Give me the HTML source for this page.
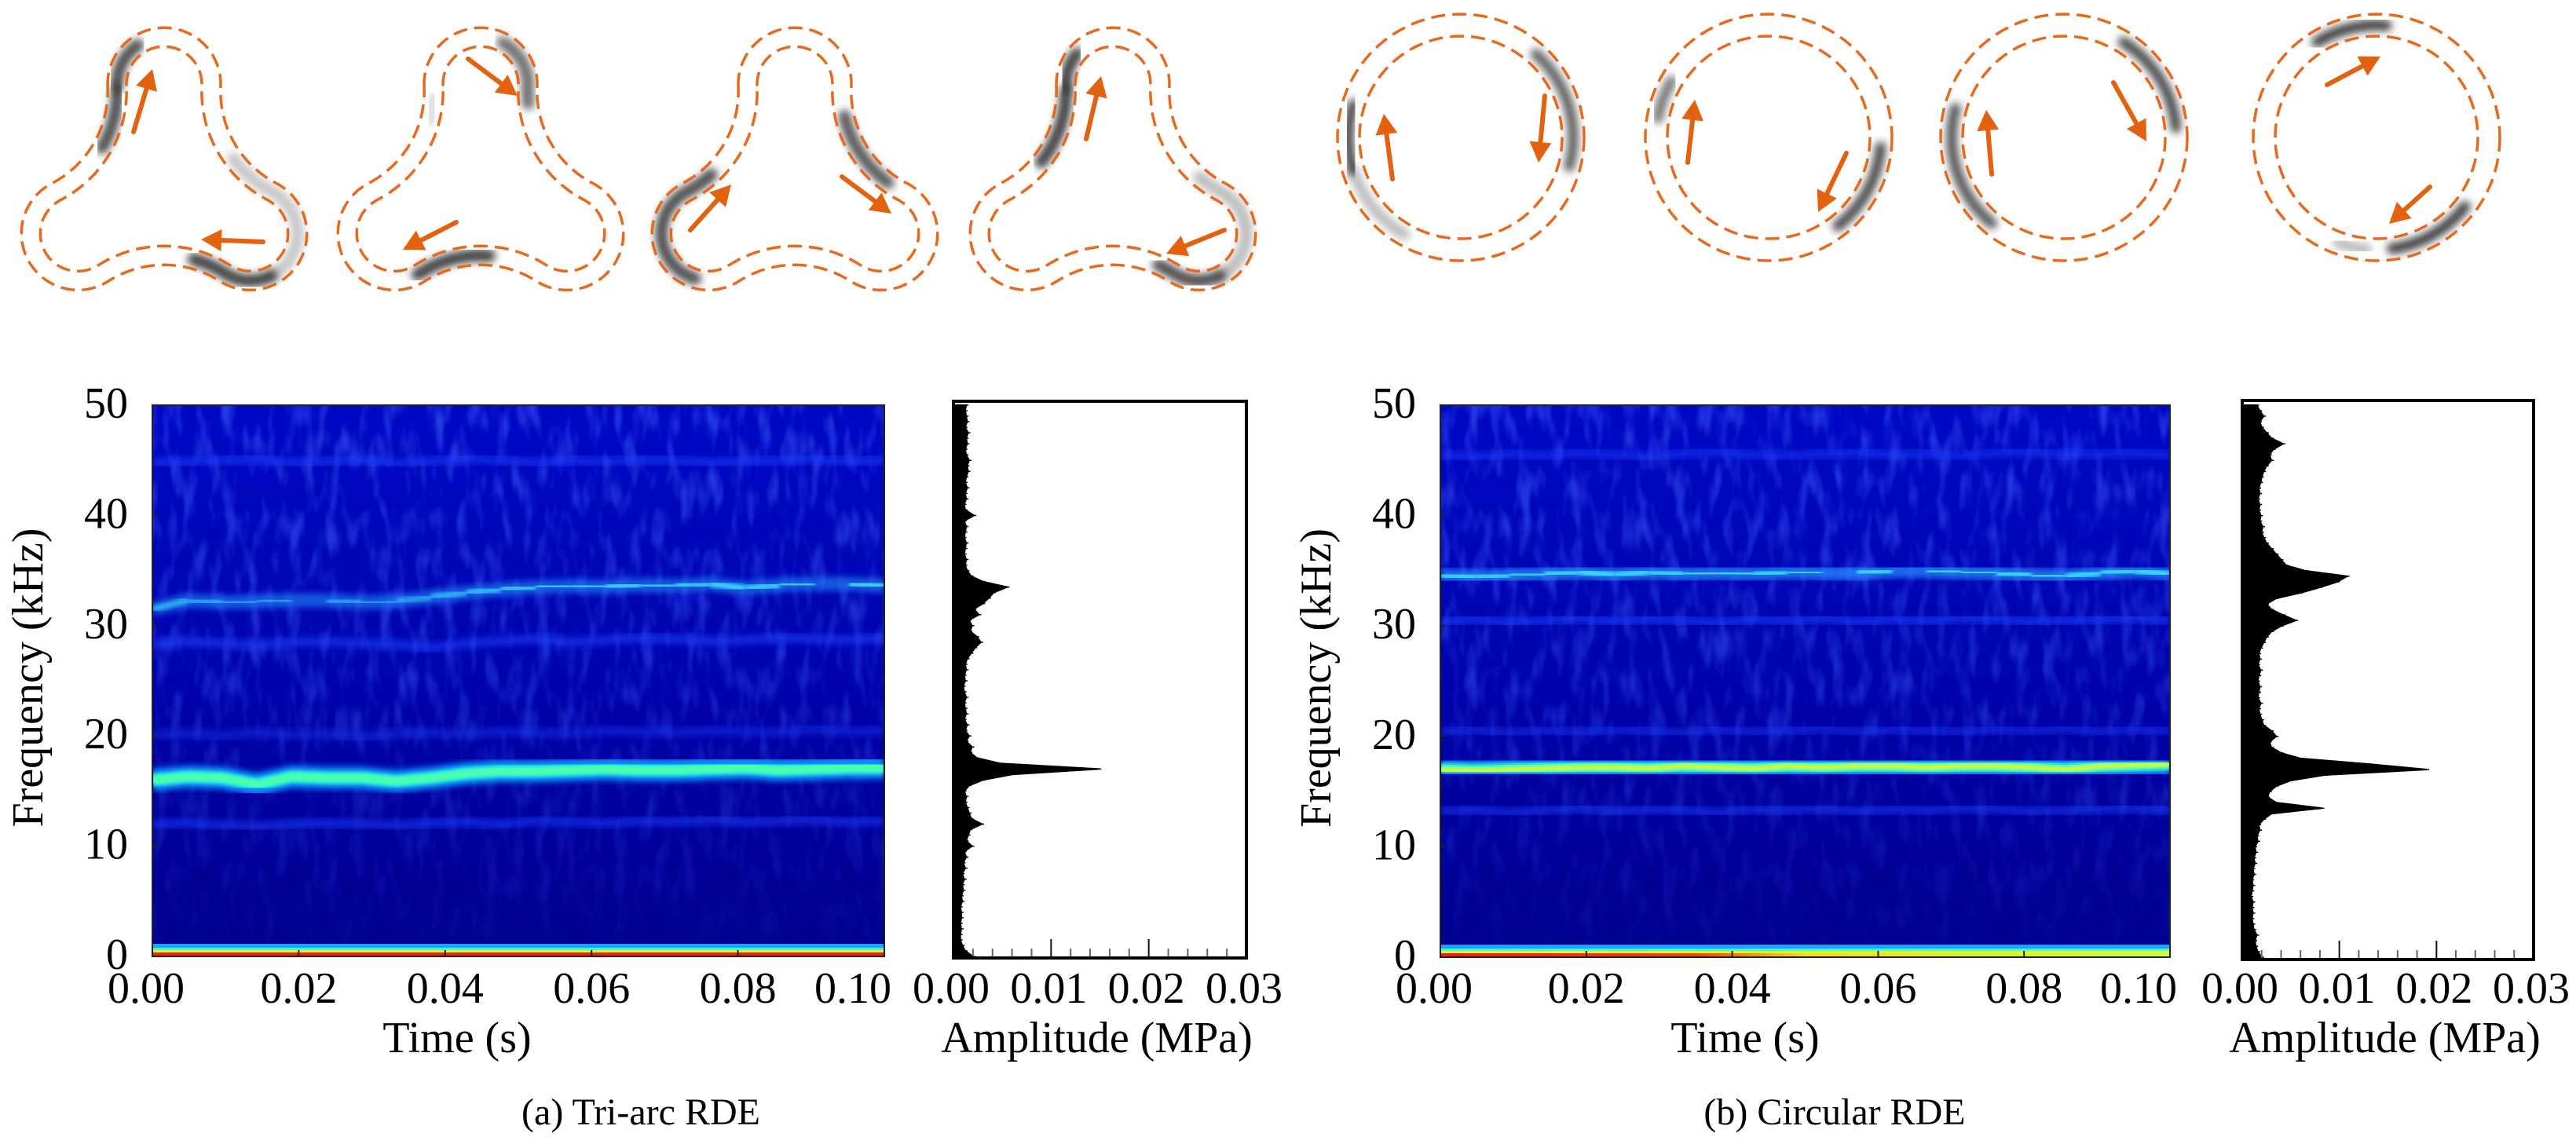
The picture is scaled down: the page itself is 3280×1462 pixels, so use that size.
<!DOCTYPE html>
<html><head><meta charset="utf-8">
<style>
html,body{margin:0;padding:0;background:#fff;}
svg{display:block;font-family:"Liberation Serif","Times New Roman","Noto Serif CJK SC",serif;}
svg text{font-family:"Liberation Serif","Times New Roman","Noto Serif CJK SC",serif;fill:#000;}
</style></head>
<body>
<svg id="fig" width="3280" height="1462" viewBox="0 0 3280 1462" xmlns="http://www.w3.org/2000/svg">
<defs>
  <filter id="blur2" x="-20%" y="-20%" width="140%" height="140%"><feGaussianBlur stdDeviation="2"/></filter>
  <filter id="blur4" x="-20%" y="-50%" width="140%" height="200%"><feGaussianBlur stdDeviation="4"/></filter>
  <filter id="blur5" x="-30%" y="-30%" width="160%" height="160%"><feGaussianBlur stdDeviation="5"/></filter>
  <filter id="texture" x="0" y="0" width="100%" height="100%">
    <feTurbulence type="fractalNoise" baseFrequency="0.06 0.02" numOctaves="2" seed="7" result="n"/>
    <feColorMatrix in="n" type="matrix" values="0 0 0 0 0.05  0 0 0 0 0.12  0 0 0 0 1  3.0 0 0 0 -1.4" result="c"/>
    <feComposite in="c" in2="SourceGraphic" operator="in"/>
  </filter>
  <linearGradient id="bgGrad" x1="0" y1="0" x2="0" y2="1">
    <stop offset="0" stop-color="#0008c4"/>
    <stop offset="0.45" stop-color="#0004b0"/>
    <stop offset="0.7" stop-color="#00009e"/>
    <stop offset="1" stop-color="#000090"/>
  </linearGradient>
  <linearGradient id="fadeGrad" x1="0" y1="0" x2="0" y2="1">
    <stop offset="0" stop-color="#fff" stop-opacity="0.55"/>
    <stop offset="0.5" stop-color="#fff" stop-opacity="0.4"/>
    <stop offset="0.85" stop-color="#fff" stop-opacity="0.15"/>
    <stop offset="1" stop-color="#fff" stop-opacity="0.05"/>
  </linearGradient>
  <mask id="maskL" maskUnits="userSpaceOnUse" x="194" y="516" width="932" height="703"><rect x="194" y="516" width="932" height="703" fill="url(#fadeGrad)"/></mask>
  <mask id="maskR" maskUnits="userSpaceOnUse" x="1834" y="516" width="929" height="703"><rect x="1834" y="516" width="929" height="703" fill="url(#fadeGrad)"/></mask>
  <clipPath id="clipL"><rect x="194" y="516" width="932" height="703"/></clipPath>
  <clipPath id="clipR"><rect x="1834" y="516" width="929" height="703"/></clipPath>
</defs>
<g id="shapes"></g>
<g id="panelA"></g>
<g id="panelB"></g>
<text x="816" y="1432" font-size="48" text-anchor="middle">(a) Tri-arc RDE</text>
<text x="2336" y="1432" font-size="48" text-anchor="middle">(b) Circular RDE</text>
</svg>
<script>
// ---------- DATA ----------
const times = [0,0.0048,0.0095,0.0143,0.019,0.0238,0.0286,0.0333,0.0381,0.0429,0.0476,0.0524,0.0571,0.0619,0.0667,0.0714,0.0762,0.081,0.0857,0.0905,0.0952,0.1];
const triMain = [16.0,16.3,16.2,15.6,16.3,16.2,16.2,15.9,16.2,16.6,16.8,16.8,16.9,17.0,16.9,16.9,17.0,17.1,16.9,17.0,17.1,17.1];
const triSecond = [31.5,32.3,32.1,32.2,32.3,32.3,32.1,32.2,32.6,33.0,33.3,33.5,33.6,33.5,33.7,33.6,33.8,33.4,33.7,33.8,33.8,33.6];
const triSecondLevel = [0.6,0.55,0.5,0.5,0.55,0.5,0.45,0.5,0.6,0.7,0.8,0.85,0.85,0.9,0.9,0.85,0.9,0.85,0.9,0.9,0.95,0.9];
const triFaint45 = [44.8,44.9,45.0,45.1,44.8,44.9,45.0,44.7,44.9,45.2,45.0,44.8,45.0,44.9,45.1,45.0,44.8,44.9,45.0,45.1,44.9,45.0];
const triFaint28 = [28.3,28.6,28.4,28.2,28.5,28.6,28.4,28.3,28.0,28.4,28.6,28.8,28.5,28.7,28.9,28.8,28.6,28.7,28.9,28.8,28.7,28.9];
const triFaint20 = [20.1,20.2,20.0,20.3,20.1,20.2,19.9,20.2,20.3,20.1,20.4,20.3,20.2,20.5,20.4,20.3,20.5,20.4,20.3,20.6,20.4,20.5];
const triFaint12 = [12.0,12.1,11.9,11.8,12.0,12.1,12.0,11.9,12.1,12.2,12.0,12.3,12.2,12.1,12.3,12.2,12.4,12.2,12.3,12.4,12.2,12.3];
const cirMain = [17.0,16.9,17.0,17.1,17.2,17.2,17.1,17.3,17.2,17.1,17.3,17.2,17.3,17.3,17.2,17.3,17.3,17.2,17.0,17.3,17.4,17.5];
const cirSecond = [34.6,34.4,34.6,34.7,34.9,34.6,34.9,34.7,34.8,34.7,34.9,34.8,34.8,35.0,35.0,34.9,34.8,34.6,34.5,34.8,35.0,34.7];
const cirSecondLevel = [0.9,0.85,0.9,0.9,0.95,0.9,0.9,0.9,0.95,0.9,0.9,0.95,0.9,0.95,0.95,0.9,0.95,0.9,0.9,0.9,0.95,0.9];
const cirFaint45 = [45.5,45.3,45.6,45.4,45.7,45.5,45.3,45.6,45.8,45.5,45.4,45.6,45.7,45.5,45.6,45.4,45.7,45.8,45.5,45.6,45.7,45.5];
const cirFaint30 = [30.4,30.6,30.3,30.5,30.7,30.4,30.6,30.5,30.3,30.6,30.5,30.7,30.4,30.6,30.5,30.7,30.6,30.4,30.5,30.6,30.7,30.5];
const cirFaint20 = [20.4,20.6,20.3,20.5,20.4,20.6,20.5,20.3,20.6,20.4,20.5,20.7,20.4,20.6,20.5,20.4,20.6,20.5,20.7,20.4,20.6,20.5];
const cirFaint13 = [13.2,13.4,13.1,13.3,13.5,13.2,13.4,13.3,13.1,13.4,13.3,13.5,13.2,13.4,13.3,13.5,13.4,13.2,13.3,13.4,13.5,13.3];
const specFreq = Array.from({length:101},(_,i)=>i*0.5);
const triSpec = [.0020,.0012,.0009,.0007,.0007,.0008,.0007,.0008,.0008,.0007,.0009,.0008,.0010,.0009,.0011,.0009,.0012,.0010,.0013,.0011,
 .0019,.0013,.0015,.0017,.0029,.0018,.0016,.0014,.0012,.0013,.0011,.0016,.0030,.0060,.0149,.0048,.0024,.0017,.0019,.0013,
 .0016,.0012,.0014,.0011,.0013,.0012,.0011,.0013,.0011,.0010,.0012,.0011,.0013,.0012,.0014,.0018,.0022,.0028,.0024,.0017,
 .0019,.0016,.0026,.0021,.0030,.0036,.0041,.0055,.0030,.0018,.0014,.0012,.0013,.0011,.0012,.0013,.0011,.0012,.0013,.0011,
 .0021,.0012,.0011,.0013,.0012,.0014,.0012,.0013,.0015,.0014,.0016,.0013,.0012,.0014,.0013,.0015,.0012,.0014,.0013,.0012,.0013];
const cirSpec = [.0020,.0016,.0014,.0013,.0015,.0012,.0011,.0010,.0011,.0010,.0011,.0009,.0010,.0011,.0010,.0012,.0011,.0013,.0012,.0014,
 .0013,.0016,.0015,.0018,.0017,.0022,.0030,.0082,.0035,.0026,.0028,.0035,.0050,.0085,.0190,.0130,.0060,.0040,.0030,.0028,
 .0035,.0030,.0022,.0020,.0018,.0017,.0019,.0016,.0017,.0018,.0016,.0017,.0019,.0016,.0018,.0017,.0019,.0022,.0025,.0030,
 .0040,.0055,.0042,.0030,.0025,.0035,.0060,.0080,.0098,.0108,.0065,.0045,.0040,.0035,.0030,.0025,.0022,.0020,.0021,.0018,
 .0019,.0017,.0018,.0016,.0018,.0017,.0019,.0020,.0022,.0025,.0030,.0028,.0032,.0042,.0030,.0025,.0020,.0018,.0022,.0018,.0015];
const timeTicks = [0,0.02,0.04,0.06,0.08,0.10];
const timeTickLabels = ["0.00","0.02","0.04","0.06","0.08","0.10"];
const freqTicks = [0,10,20,30,40,50];
const ampTicks = [0,0.01,0.02,0.03];
const ampTickLabels = ["0.00","0.01","0.02","0.03"];

const NS="http://www.w3.org/2000/svg";
function mk(parent, tag, attrs){const e=document.createElementNS(NS,tag);for(const k in attrs)e.setAttribute(k,attrs[k]);parent.appendChild(e);return e;}

// ---------- PANELS ----------
function drawPanel(g, cfg){
  const {sx0, sx1, fy0, fy1, ax0, ax1, aTop, aBot, clip, mask, main, second, secondLevel, faints, spec, yellowCore, redFade} = cfg;
  const xT = t => sx0 + t/0.1*(sx1-sx0);
  const yF = f => fy0 - f/50*(fy0-fy1);
  const xA = a => ax0 + a/0.03*(ax1-ax0);
  const sg = mk(g,'g',{'clip-path':`url(#${clip})`});
  
  
  const bg = mk(sg,'rect',{x:sx0,y:fy1,width:sx1-sx0,height:fy0-fy1,fill:'url(#bgGrad)'});
  
  
  const tg = mk(sg,'g',{mask:`url(#${mask})`});
  const tex = mk(tg,'rect',{x:sx0,y:fy1,width:sx1-sx0,height:fy0-fy1,fill:'#fff',filter:'url(#texture)'});
  
  
  const pts = arr => arr.map((f,i)=>`${xT(times[i]).toFixed(1)},${yF(f).toFixed(1)}`).join(' ');
  faints.forEach(fb=>{
    const p = mk(sg,'polyline',{points:pts(fb.data),fill:'none',stroke:'#1c40ff','stroke-width':12,opacity:fb.op,filter:'url(#blur4)'});
    
    
  });
  const avg = secondLevel.reduce((a,b)=>a+b,0)/secondLevel.length;
  const s1 = mk(sg,'polyline',{points:pts(second),fill:'none',stroke:'#2890ff','stroke-width':18,opacity:avg*0.8,filter:'url(#blur4)'});
  
  
  for(let i=0;i<times.length-1;i++){
    const core = mk(sg,'line',{x1:xT(times[i]),y1:yF(second[i]),x2:xT(times[i+1]),y2:yF(second[i+1]),stroke:'#40f0ff','stroke-width':8,opacity:secondLevel[i]*0.9,filter:'url(#blur2)'});
    
    
  }
  const m1 = mk(sg,'polyline',{points:pts(main),fill:'none',stroke:'#1090ff','stroke-width':28,filter:'url(#blur4)'});
  
  
  const m2 = mk(sg,'polyline',{points:pts(main),fill:'none',stroke:'#30ffd0','stroke-width':15,filter:'url(#blur2)'});
  
  
  const m3 = mk(sg,'polyline',{points:pts(main),fill:'none',stroke:yellowCore?'#f0ff20':'#80ff60','stroke-width':yellowCore?6:4,opacity:yellowCore?0.95:0.6,filter:'url(#blur2)'});
  
  
  const bb = mk(sg,'g',{});
  
  
  mk(bb,'rect',{x:sx0,y:fy0-16,width:sx1-sx0,height:6,fill:'#20a0ff'});
  mk(bb,'rect',{x:sx0,y:fy0-11,width:sx1-sx0,height:4,fill:'#30ffe0'});
  mk(bb,'rect',{x:sx0,y:fy0-8,width:sx1-sx0,height:3,fill:'#f0f020'});
  if(redFade){
    const lg = mk(document.querySelector('defs'),'linearGradient',{id:'redfade',x1:0,x2:1,y1:0,y2:0});
    mk(lg,'stop',{offset:'0','stop-color':'#f01818'});
    mk(lg,'stop',{offset:'0.35','stop-color':'#f04010'});
    mk(lg,'stop',{offset:'0.5','stop-color':'#f0e020'});
    mk(lg,'stop',{offset:'1','stop-color':'#c0ff40'});
    mk(bb,'rect',{x:sx0,y:fy0-5,width:sx1-sx0,height:6,fill:'url(#redfade)'});
  } else {
    mk(bb,'rect',{x:sx0,y:fy0-5,width:sx1-sx0,height:6,fill:'#f02010'});
  }
  const fr = mk(g,'rect',{x:sx0,y:fy1,width:sx1-sx0,height:fy0-fy1,fill:'none',stroke:'#222','stroke-width':2});
  
  
  timeTicks.forEach((t,i)=>{
    mk(g,'line',{x1:xT(t),y1:fy0,x2:xT(t),y2:fy0-8,stroke:'#222','stroke-width':2});
    let lx = xT(t); if(i===0) lx-=8; if(i===timeTicks.length-1) lx-=40;
    const tx = mk(g,'text',{x:lx,y:1277,'font-size':56,'text-anchor':'middle'});
    tx.textContent = timeTickLabels[i];
    
    
  });
  freqTicks.forEach(f=>{
    mk(g,'line',{x1:sx0,y1:yF(f),x2:sx0+7,y2:yF(f),stroke:'#222','stroke-width':2});
    const tx = mk(g,'text',{x:sx0-31,y:yF(f)+16,'font-size':56,'text-anchor':'end'});
    tx.textContent = String(f);
    
    
  });
  const xt = mk(g,'text',{x:sx0+388,y:1340,'font-size':56,'text-anchor':'middle'});
  xt.textContent='Time (s)';
  
  
  const yc = (fy0+fy1)/2 - 4;
  const yt = mk(g,'text',{x:0,y:0,'font-size':56,'text-anchor':'middle',transform:`translate(${sx0-140},${yc}) rotate(-90)`});
  yt.textContent='Frequency (kHz)';
  
  

  const ag = mk(g,'g',{});
  
  
  let d = `M${xA(0)},${yF(specFreq[0])}`;
  spec.forEach((a,i)=>{ d += ` L${xA(a).toFixed(1)},${yF(specFreq[i]).toFixed(1)}`; });
  d += ` L${xA(0)},${yF(specFreq[specFreq.length-1])} Z`;
  const sp = mk(ag,'path',{d:d,fill:'#000',stroke:'#000','stroke-width':2,'stroke-linejoin':'miter'});
  
  
  spec.forEach((a,i)=>{
    const h = mk(ag,'line',{x1:xA(0),y1:yF(specFreq[i]),x2:xA(a)+3,y2:yF(specFreq[i]),stroke:'#000','stroke-width':1.5});
    
    
  });
  for(let v=0; v<=0.0301; v+=0.002){
    const major = Math.abs(v/0.01-Math.round(v/0.01))<1e-6;
    const lt = mk(ag,'line',{x1:xA(v),y1:aBot,x2:xA(v),y2:aBot-(major?24:12),stroke:major?'#111':'#666','stroke-width':2});
    
    
  }
  const af = mk(ag,'rect',{x:ax0,y:aTop,width:ax1-ax0,height:aBot-aTop,fill:'none',stroke:'#000','stroke-width':4});
  
  
  ampTicks.forEach((a,i)=>{
    const tx = mk(g,'text',{x:xA(a)-3,y:1277,'font-size':56,'text-anchor':'middle'});
    tx.textContent = ampTickLabels[i];
    
    
  });
  const at = mk(g,'text',{x:(ax0+ax1)/2-4,y:1340,'font-size':56,'text-anchor':'middle'});
  at.textContent='Amplitude (MPa)';
  
  
}

drawPanel(document.getElementById('panelA'),{sx0:194,sx1:1126,fy0:1218,fy1:516,ax0:1214,ax1:1587,aTop:511,aBot:1220,clip:'clipL',mask:'maskL',
  main:triMain, second:triSecond, secondLevel:triSecondLevel,
  faints:[{data:triFaint45,op:0.55},{data:triFaint28,op:0.6},{data:triFaint20,op:0.4},{data:triFaint12,op:0.55}],
  spec:triSpec, yellowCore:false, redFade:false});
drawPanel(document.getElementById('panelB'),{sx0:1834,sx1:2763,fy0:1219,fy1:516,ax0:2855,ax1:3226,aTop:510,aBot:1222,clip:'clipR',mask:'maskR',
  main:cirMain, second:cirSecond, secondLevel:cirSecondLevel,
  faints:[{data:cirFaint45,op:0.5},{data:cirFaint30,op:0.6},{data:cirFaint20,op:0.45},{data:cirFaint13,op:0.55}],
  spec:cirSpec, yellowCore:true, redFade:true});

// ---------- WAVE SNAPSHOTS ----------
const SG = document.getElementById('shapes');
const rad = a => a*Math.PI/180;
function triPoints(cx, cy, w){
  const d=126.7, rho=60, q=143.8, e=235.1;
  const lobes=[-90,30,150];
  const pts=[];
  const C = a => [cx+d*Math.cos(rad(a)), cy+d*Math.sin(rad(a))];
  const M = a => [cx+e*Math.cos(rad(a)), cy+e*Math.sin(rad(a))];
  const ang = (p,o)=>Math.atan2(p[1]-o[1],p[0]-o[0])*180/Math.PI;
  for(let i=0;i<3;i++){
    const a=lobes[i], c=C(a), mp=M(a-60), mn=M(a+60), cnext=C(lobes[(i+1)%3]);
    let p1=ang(mp,c), p2=ang(mn,c);
    while(p2<=p1) p2+=360;
    const R=rho+w;
    for(let k=0;k<=60;k++){const t=p1+(p2-p1)*k/60; pts.push([c[0]+R*Math.cos(rad(t)), c[1]+R*Math.sin(rad(t))]);}
    let s1=ang(c,mn), s2=ang(cnext,mn);
    let df=s2-s1; while(df>180) df-=360; while(df<-180) df+=360;
    const Q=q-w;
    for(let k=1;k<30;k++){const t=s1+df*k/30; pts.push([mn[0]+Q*Math.cos(rad(t)), mn[1]+Q*Math.sin(rad(t))]);}
  }
  return pts;
}
function circPoints(cx,cy,r){const p=[];for(let k=0;k<=180;k++){const t=k*2;p.push([cx+r*Math.cos(rad(t)),cy+r*Math.sin(rad(t))]);}return p;}
function ptsStr(p){return p.map(v=>v[0].toFixed(1)+','+v[1].toFixed(1)).join(' ');}
function inArc(t,a1,a2){const n=x=>((x%360)+360)%360;return n(t-a1)<=n(a2-a1);}
function drawBlob(pts,op,width){
  const b = mk(SG,'polyline',{points:ptsStr(pts),fill:'none',stroke:'#222','stroke-width':width,'stroke-linecap':'round',opacity:op,filter:'url(#blur5)'});
  
  
}
function blob(pts,cx,cy,a1,a2,op,width){
  let segs=[],cur=[];
  pts.forEach(p=>{const t=Math.atan2(p[1]-cy,p[0]-cx)*180/Math.PI; if(inArc(t,a1,a2)) cur.push(p); else {if(cur.length)segs.push(cur);cur=[];}});
  if(cur.length) segs.push(cur);
  segs.forEach(s=>drawBlob(s,op,width));
}
function circBlob(cx,cy,r,a1,a2,op,width){
  const p=[]; let span=((a2-a1)%360+360)%360;
  for(let k=0;k<=30;k++){const t=a1+span*k/30;p.push([cx+r*Math.cos(rad(t)),cy+r*Math.sin(rad(t))]);}
  drawBlob(p,op,width);
}
function arrow(x1,y1,x2,y2){
  const dx=x2-x1, dy=y2-y1, L=Math.hypot(dx,dy);
  const ux=dx/L, uy=dy/L, hl=26, hw=14;
  const bx=x2-ux*hl, by=y2-uy*hl;
  const a = mk(SG,'g',{});
  
  
  mk(a,'line',{x1:x1,y1:y1,x2:bx,y2:by,stroke:'#e2620f','stroke-width':6,'stroke-linecap':'round'});
  mk(a,'polygon',{points:`${x2},${y2} ${bx-uy*hw},${by+ux*hw} ${bx+uy*hw},${by-ux*hw}`,fill:'#e2620f'});
}
function channel(pts){
  const p = mk(SG,'polygon',{points:ptsStr(pts),fill:'none',stroke:'#e8691c','stroke-width':3.5,'stroke-dasharray':'18 9'});
  
  
}
const triCenters=[209,612,1012,1417], TY=234;
const triBlobs=[
  [[-152,-100,0.8],[-20,40,0.25],[40,70,0.85]],
  [[-82,-58,0.65],[80,125,0.85],[-130,-118,0.15]],
  [[-55,0,0.75],[136,187,0.8]],
  [[-165,-105,0.85],[-5,40,0.3],[40,62,0.8]]
];
const triArrows=[
  [[170,168,194,88],[335,308,256,305]],
  [[596,75,659,122],[581,283,513,318]],
  [[879,293,931,235],[1072,225,1135,272]],
  [[1383,177,1402,97],[1559,293,1485,323]]
];
triCenters.forEach((cx,i)=>{
  const mid = triPoints(cx,TY,0);
  triBlobs[i].forEach(b=>blob(mid,cx,TY,b[0],b[1],b[2],16));
  channel(triPoints(cx,TY,12));
  channel(triPoints(cx,TY,-12));
  triArrows[i].forEach(a=>arrow(...a));
});
const cirCenters=[1860,2252,2628,3026], CY=175;
const cirBlobs=[
  [[163,197,0.8],[120,163,0.3],[-48,15,0.7]],
  [[-170,-150,0.6],[5,52,0.8]],
  [[-58,-5,0.8],[130,195,0.75]],
  [[-122,-85,0.85],[38,82,0.85],[95,110,0.3]]
];
const cirArrows=[
  [[1773,228,1762,145],[1967,122,1959,207]],
  [[2149,207,2158,127],[2351,195,2315,270]],
  [[2536,222,2529,140],[2691,105,2733,180]],
  [[2963,108,3031,72],[3094,238,3042,285]]
];
cirCenters.forEach((cx,i)=>{
  cirBlobs[i].forEach(b=>circBlob(cx,CY,143,b[0],b[1],b[2],14));
  channel(circPoints(cx,CY,157));
  channel(circPoints(cx,CY,129));
  cirArrows[i].forEach(a=>arrow(...a));
});
</script>
</body></html>
